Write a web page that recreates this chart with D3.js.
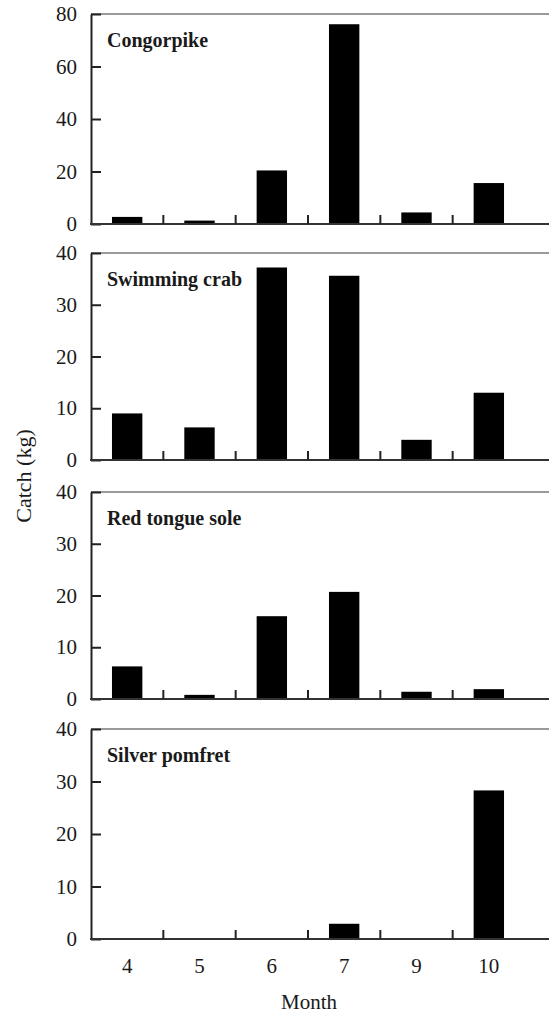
<!DOCTYPE html>
<html lang="en">
<head>
  <meta charset="utf-8">
  <title>Monthly catch</title>
  <script src="https://d3js.org/d3.v7.min.js"></script>
  <style type="text/css">
    body { margin: 0; background: #fff; }
    text { font-family: "Liberation Serif", "Times New Roman", serif; fill: #1a1a1a; }
  </style>
</head>
<body>
  <div id="chart"></div>
  <script type="text/javascript">
    // data
    const months = ["4", "5", "6", "7", "9", "10"];
    const species = ["Congorpike", "Swimming crab", "Red tongue sole", "Silver pomfret"];
    const congorpike = [2.7, 1.3, 20.4, 76.1, 4.4, 15.6];
    const swimmingCrab = [9.0, 6.3, 37.2, 35.6, 3.9, 13.0];
    const redTongueSole = [6.3, 0.8, 16.0, 20.7, 1.4, 1.9];
    const silverPomfret = [0, 0, 0, 2.9, 0, 28.3];
    const yMax = [80, 40, 40, 40];
    const yTicks = [[0, 20, 40, 60, 80], [0, 10, 20, 30, 40], [0, 10, 20, 30, 40], [0, 10, 20, 30, 40]];

    const series = [congorpike, swimmingCrab, redTongueSole, silverPomfret];

    const w = 549;
    const h = 1013;
    const left = 91;
    const right = 525;
    const panelTop = [14, 253, 492, 729];
    const panelBottom = [224, 460, 699, 939];

    const svg = d3.select("#chart")
      .append("svg")
      .attr("width", w)
      .attr("height", h);

    const x = d3.scaleBand()
      .domain(months)
      .range([left, right]);

    const barW = x.bandwidth() * 0.42;

    species.forEach((name, i) => {
      const y = d3.scaleLinear()
        .domain([0, yMax[i]])
        .range([panelBottom[i], panelTop[i]]);

      const g = svg.append("g");

      // top frame line
      g.append("line")
        .attr("x1", left).attr("x2", w)
        .attr("y1", y(yMax[i])).attr("y2", y(yMax[i]))
        .attr("stroke", "#9a9a9a")
        .attr("stroke-width", 2);

      // bars
      g.selectAll("rect")
        .data(series[i].map((v, j) => ({ m: months[j], v: v })))
        .enter()
        .append("rect")
        .attr("x", d => x(d.m) + (x.bandwidth() - barW) / 2)
        .attr("width", barW)
        .attr("y", d => y(d.v))
        .attr("height", d => y(0) - y(d.v))
        .attr("fill", "#000");

      // y axis, ticks pointing inward
      const leftAxis = d3.axisLeft(y)
        .tickValues(yTicks[i])
        .tickSizeInner(-10)
        .tickSizeOuter(0)
        .tickPadding(14);
      const ya = g.append("g")
        .attr("transform", "translate(" + left + ",0)")
        .call(leftAxis);
      ya.select(".domain").attr("stroke", "#222").attr("stroke-width", 2);
      ya.selectAll(".tick line").attr("stroke", "#222").attr("stroke-width", 2);
      ya.selectAll(".tick text")
        .attr("font-size", 21)
        .attr("fill", "#1a1a1a");

      // baseline with separator ticks between months
      g.append("line")
        .attr("x1", left - 1).attr("x2", w)
        .attr("y1", y(0)).attr("y2", y(0))
        .attr("stroke", "#333")
        .attr("stroke-width", 2);

      g.selectAll(".sep")
        .data(months.slice(1))
        .enter()
        .append("line")
        .attr("class", "sep")
        .attr("x1", d => x(d)).attr("x2", d => x(d))
        .attr("y1", y(0)).attr("y2", y(0) - 9)
        .attr("stroke", "#222")
        .attr("stroke-width", 2);

      // species label
      g.append("text")
        .attr("x", 107)
        .attr("y", panelTop[i] + 33)
        .attr("font-size", 20)
        .attr("font-weight", "bold")
        .text(name);

      // month labels under the last panel
      if (i === species.length - 1) {
        const bottomAxis = d3.axisBottom(x).tickSize(0).tickPadding(19);
        const xa = g.append("g")
          .attr("transform", "translate(0," + y(0) + ")")
          .call(bottomAxis);
        xa.select(".domain").remove();
        xa.selectAll(".tick text")
          .attr("font-size", 21)
          .attr("fill", "#1a1a1a");
      }
    });

    svg.append("text")
      .attr("transform", "translate(" + ((left + right) / 2 + 1) + "," + 1009 + ")")
      .style("text-anchor", "middle")
      .attr("font-size", 21)
      .text("Month");

    svg.append("text")
      .attr("transform", "translate(31,476) rotate(-90)")
      .style("text-anchor", "middle")
      .attr("font-size", 22)
      .text("Catch (kg)");
  </script>
</body>
</html>
